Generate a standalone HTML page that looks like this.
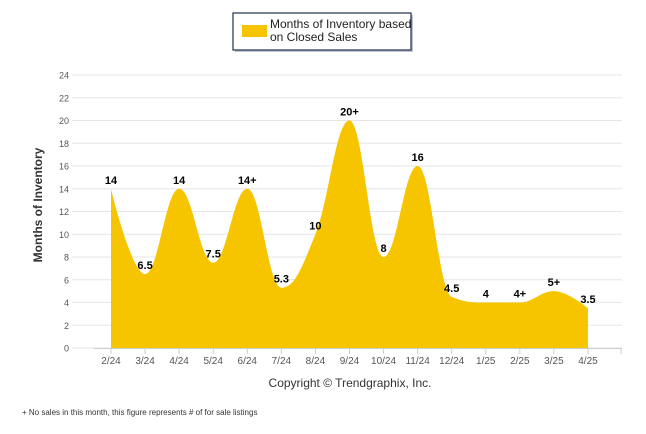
<!DOCTYPE html>
<html><head><meta charset="utf-8"><style>
body{margin:0;background:#fff;}
svg{display:block;font-family:"Liberation Sans",Arial,sans-serif;}
</style></head><body>
<svg id="chart" width="646" height="434" viewBox="0 0 646 434">
<g id="grid"></g>
<path id="area" fill="#f7c500"></path>
<g id="labels"></g>
<g id="xaxis"></g>
<g id="yaxis"></g>
<text transform="translate(42,205) rotate(-90)" text-anchor="middle" font-size="12" font-weight="bold" fill="#333">Months of Inventory</text>
<text x="350" y="387" text-anchor="middle" font-size="12" fill="#333">Copyright © Trendgraphix, Inc.</text>
<text x="22" y="415" font-size="8" fill="#333">+  No sales in this month, this figure represents # of for sale listings</text>
<g>
<rect x="235" y="15" width="178" height="37" fill="#7f8a99" opacity="0.5"/>
<rect x="233" y="13" width="178" height="37" fill="#fff" stroke="#1f2d50" stroke-width="1.2"/>
<rect x="242" y="25" width="25" height="12" fill="#f7c500"/>
<text x="270" y="28" font-size="12" fill="#222">Months of Inventory based</text>
<text x="270" y="41" font-size="12" fill="#222">on Closed Sales</text>
</g>
</svg>
<script>
const categories=["2/24","3/24","4/24","5/24","6/24","7/24","8/24","9/24","10/24","11/24","12/24","1/25","2/25","3/25","4/25"];
const values=[14,6.5,14,7.5,14,5.3,10,20,8,16,4.5,4,4,5,3.5];
const valueLabels=["14","6.5","14","7.5","14+","5.3","10","20+","8","16","4.5","4","4+","5+","3.5"];
const yTicks=[0,2,4,6,8,10,12,14,16,18,20,22,24];
const NS="http://www.w3.org/2000/svg";
const x0=111,dx=34.07,yBase=348,yTop=75;
const X=i=>x0+i*dx;
const Y=v=>yBase-(v/24)*(yBase-yTop);
function mk(t,a,p){const e=document.createElementNS(NS,t);for(const k in a)e.setAttribute(k,a[k]);p.appendChild(e);return e;}
const grid=document.getElementById('grid'),ya=document.getElementById('yaxis'),xa=document.getElementById('xaxis');
yTicks.forEach(v=>{
 const l=mk('line',{x1:72,x2:622,y1:Y(v),y2:Y(v),stroke:'#e6e6e6','stroke-width':1},grid);
 
 const t=mk('text',{x:69,y:Y(v)+3.5,'text-anchor':'end','font-size':9,fill:'#555'},ya);
 
 t.textContent=v;
});
mk('line',{x1:94,x2:622,y1:yBase+0.5,y2:yBase+0.5,stroke:'#ccc'},xa);
categories.forEach((c,i)=>{
 mk('line',{x1:X(i),x2:X(i),y1:yBase,y2:yBase+6,stroke:'#ccc'},xa);
 const t=mk('text',{x:X(i),y:yBase+16,'text-anchor':'middle','font-size':10,fill:'#555'},xa);
 
 t.textContent=c;
});
mk('line',{x1:X(categories.length)-1,x2:X(categories.length)-1,y1:yBase,y2:yBase+6,stroke:'#ccc'},xa);
// spline (Highcharts-like)
const pts=values.map((v,i)=>[X(i),Y(v)]);
let d=`M${pts[0][0]},${yBase} L${pts[0][0]},${pts[0][1]}`;
function ctrl(i){
 const [x,y]=pts[i];const p=pts[i-1],n=pts[i+1];if(!p||!n)return null;
 const s=1.5,den=2.5;let lx=(s*x+p[0])/den,ly=(s*y+p[1])/den,rx=(s*x+n[0])/den,ry=(s*y+n[1])/den;
 const corr=((ry-ly)*(rx-x))/(rx-lx)+y-ry;ly+=corr;ry+=corr;
 if(ly>p[1]&&ly>y){ly=Math.max(p[1],y);ry=2*y-ly;}else if(ly<p[1]&&ly<y){ly=Math.min(p[1],y);ry=2*y-ly;}
 if(ry>n[1]&&ry>y){ry=Math.max(n[1],y);ly=2*y-ry;}else if(ry<n[1]&&ry<y){ry=Math.min(n[1],y);ly=2*y-ry;}
 return {lx,ly,rx,ry};
}
const cs=pts.map((_,i)=>ctrl(i));
for(let i=1;i<pts.length;i++){
 const a=cs[i-1]?[cs[i-1].rx,cs[i-1].ry]:pts[i-1];
 const b=cs[i]?[cs[i].lx,cs[i].ly]:pts[i];
 d+=` C${a[0]},${a[1]} ${b[0]},${b[1]} ${pts[i][0]},${pts[i][1]}`;
}
d+=` L${pts[pts.length-1][0]},${yBase} Z`;
document.getElementById('area').setAttribute('d',d);
const lg=document.getElementById('labels');
valueLabels.forEach((s,i)=>{
 const t=mk('text',{x:X(i),y:Y(values[i])-5,'text-anchor':'middle','font-size':11,'font-weight':'bold',fill:'#000'},lg);
 
 t.textContent=s;
});
</script>
</body></html>
